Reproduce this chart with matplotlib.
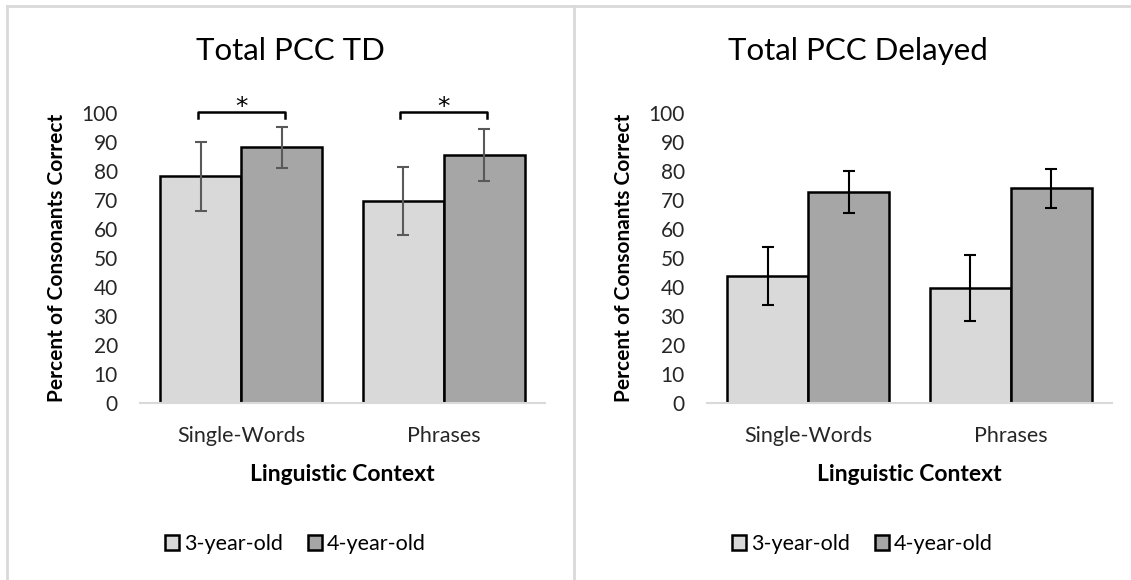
import numpy as np
import matplotlib
matplotlib.use("Agg")
import matplotlib.pyplot as plt
from matplotlib.lines import Line2D

plt.rcParams['font.family'] = ['Lato', 'DejaVu Sans']

# data
contexts = ["Single-Words", "Phrases"]
groups = ["3-year-old", "4-year-old"]

td_3yo = [78, 69.5]
td_4yo = [88, 85.5]
td_3yo_err = [12, 11.7]
td_4yo_err = [7, 9]

del_3yo = [43.8, 39.5]
del_4yo = [72.7, 74]
del_3yo_err = [10, 11.5]
del_4yo_err = [7.3, 6.7]

W, H = 1131, 580
fig = plt.figure(figsize=(W / 100, H / 100), dpi=100)

col3 = "#D9D9D9"
col4 = "#A6A6A6"

# panel borders (top line, left edge, divider)
border = "#D9D9D9"
fig.add_artist(Line2D([7 / W, 1], [1 - 6 / H, 1 - 6 / H], color=border, lw=2, transform=fig.transFigure))
fig.add_artist(Line2D([7 / W, 7 / W], [0, 1 - 6 / H], color=border, lw=2, transform=fig.transFigure))
fig.add_artist(Line2D([574 / W, 574 / W], [0, 1 - 6 / H], color=border, lw=2, transform=fig.transFigure))


def panel(x0, title, v3, v4, e3, e4, ecol, stars):
    ax = fig.add_axes([x0 / W, 1 - 402.7 / H, 405 / W, 290 / H])
    x = np.arange(len(contexts))
    w = 0.4
    b3 = ax.bar(x - w / 2, v3, w, color=col3, edgecolor="black", linewidth=1.8, label=groups[0])
    b4 = ax.bar(x + w / 2, v4, w, color=col4, edgecolor="black", linewidth=1.8, label=groups[1])
    ax.errorbar(x - w / 2, v3, yerr=e3, fmt="none", ecolor=ecol, elinewidth=1.5, capsize=4.5, capthick=1.5)
    ax.errorbar(x + w / 2, v4, yerr=e4, fmt="none", ecolor=ecol, elinewidth=1.5, capsize=4.5, capthick=1.5)
    ax.set_xlim(-0.5, 1.5)
    ax.set_ylim(0, 100)
    ax.set_yticks(np.arange(0, 101, 10))
    ax.set_xticks(x)
    ax.set_xticklabels(contexts)
    ax.tick_params(length=0, labelsize=15, colors="#262626")
    ax.tick_params(axis="x", labelsize=15.5, pad=17)
    ax.tick_params(axis="y", pad=16)
    for s in ["top", "right", "left"]:
        ax.spines[s].set_visible(False)
    ax.spines["bottom"].set_color("#D9D9D9")
    ax.spines["bottom"].set_linewidth(1.5)
    ax.set_ylabel("Percent of Consonants Correct", fontsize=15, fontweight="bold")
    ax.yaxis.set_label_coords(-0.18, 0.5)
    ax.set_xlabel("Linguistic Context", fontsize=16.5, fontweight="bold")
    ax.xaxis.set_label_coords(0.5, -0.213)
    if stars:
        for xi in x:
            ax.plot([xi - 0.215, xi - 0.215, xi + 0.215, xi + 0.215], [98.3, 100.3, 100.3, 98.3],
                    color="black", lw=1.8, clip_on=False)
            ax.text(xi, 99.6, "*", ha="center", va="baseline", fontsize=18,
                    family="DejaVu Sans", clip_on=False)
    cx = x0 - 140 + 290.5
    fig.text(cx / W, 1 - 51 / H, title, ha="center", va="center", fontsize=22.5)
    fig.legend(handles=[b3, b4], loc="center", bbox_to_anchor=((cx + 5) / W, 1 - 544 / H),
               ncol=2, frameon=False, fontsize=15.5, handlelength=0.65, handleheight=0.65,
               handletextpad=0.2, columnspacing=1.2)
    return ax


panel(140, "Total PCC TD", td_3yo, td_4yo, td_3yo_err, td_4yo_err, "#595959", True)
panel(707, "Total PCC Delayed", del_3yo, del_4yo, del_3yo_err, del_4yo_err, "black", False)

fig.savefig("out.png", dpi=100)
